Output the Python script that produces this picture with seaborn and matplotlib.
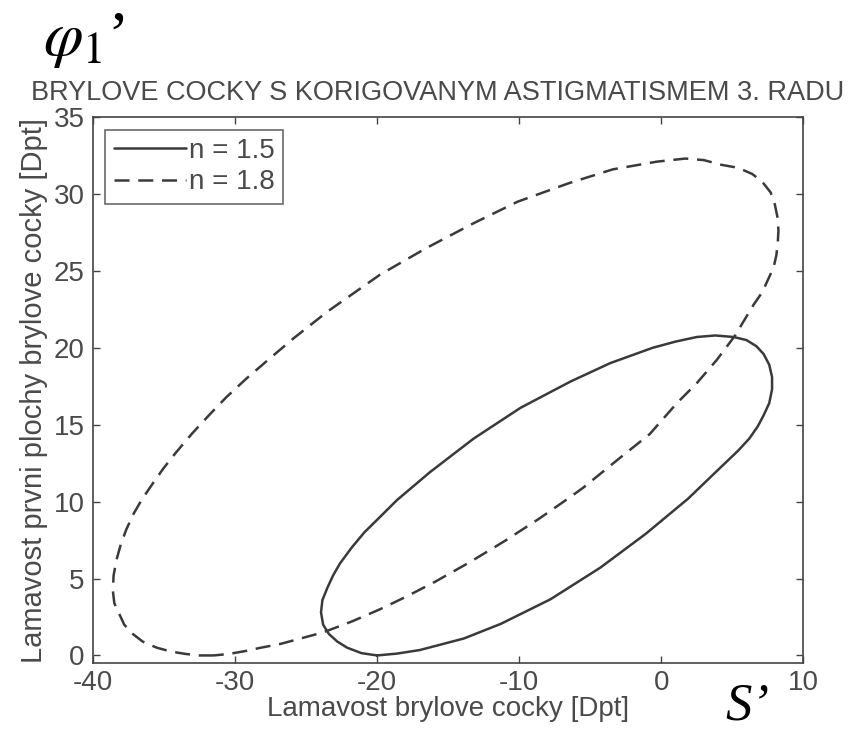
import matplotlib
matplotlib.use("Agg")
import matplotlib.pyplot as plt
import pandas as pd
import seaborn as sns

# ===================== DATA =====================
# n = 1.5, solid ellipse, traced from the bottom point round and back
solid_x = [-20.0, -21.1, -22.1, -22.8, -23.4, -23.8, -23.95, -23.85, -23.5, -23.1,
           -22.6, -21.8, -20.9, -19.8, -18.6, -16.3, -13.2, -9.9, -6.4, -3.6,
           -0.6, 1.0, 2.5, 3.8, 5.1, 6.0, 6.7, 7.2, 7.6, 7.8,
           7.8, 7.6, 7.2, 6.8, 6.2, 5.4, 3.7, 1.9, -1.1, -4.3,
           -7.8, -11.3, -13.9, -17.0, -18.6, -20.0]
solid_y = [0.0, 0.15, 0.5, 0.9, 1.4, 2.0, 2.8, 3.6, 4.4, 5.2,
           6.0, 7.0, 8.0, 9.0, 10.1, 11.9, 14.1, 16.1, 17.8, 19.0,
           20.0, 20.4, 20.7, 20.8, 20.7, 20.5, 20.1, 19.6, 18.9, 18.1,
           17.3, 16.4, 15.6, 14.9, 14.1, 13.3, 11.8, 10.2, 7.9, 5.7,
           3.65, 2.05, 1.1, 0.35, 0.12, 0.0]

# n = 1.8, dashed ellipse
dashed_x = [-31.5, -32.5, -33.5, -34.5, -35.5, -36.5, -37.2, -37.8, -38.2, -38.5,
            -38.6, -38.55, -38.35, -38.05, -37.65, -37.15, -36.55, -35.85, -35.05, -34.15,
            -33.0, -31.8, -30.6, -29.2, -27.5, -25.9, -23.5, -19.8, -16.5, -13.2,
            -10.1, -6.5, -3.4, -0.3, 1.7, 3.0, 4.2, 5.4, 6.4, 7.1,
            7.7, 8.0, 8.2, 8.25, 8.2, 8.1, 7.9, 7.5, 7.1, 6.5,
            5.2, 3.9, 2.5, 1.1, -0.8, -3.1, -5.5, -6.4, -8.5, -11.0,
            -13.5, -16.0, -18.0, -19.8, -21.8, -23.8, -26.8, -28.2, -29.2, -30.4,
            -31.5]
dashed_y = [0.0, 0.0, 0.1, 0.25, 0.5, 0.9, 1.4, 2.0, 2.8, 3.4,
            4.2, 5.2, 6.2, 7.2, 8.2, 9.2, 10.15, 11.1, 12.15, 13.2,
            14.45, 15.65, 16.8, 18.0, 19.35, 20.6, 22.35, 24.75, 26.5, 28.1,
            29.5, 30.7, 31.6, 32.1, 32.3, 32.2, 31.9, 31.7, 31.3, 30.8,
            30.1, 29.3, 28.4, 27.6, 26.8, 26.0, 25.2, 24.4, 23.6, 22.8,
            20.8, 19.2, 17.7, 16.4, 14.4, 12.7, 10.9, 10.3, 8.95, 7.45,
            6.05, 4.75, 3.8, 3.0, 2.2, 1.5, 0.75, 0.5, 0.3, 0.1,
            0.0]

x_ticks = [-40, -30, -20, -10, 0, 10]
y_ticks = [0, 5, 10, 15, 20, 25, 30, 35]

title = "BRYLOVE COCKY S KORIGOVANYM ASTIGMATISMEM 3. RADU"
x_label = "Lamavost brylove cocky [Dpt]"
y_label = "Lamavost prvni plochy brylove cocky [Dpt]"

# ===================== STYLE =====================
sns.set_style("ticks")
plt.rcParams["font.family"] = ["Liberation Sans", "DejaVu Sans"]
plt.rcParams["mathtext.fontset"] = "stix"
plt.rcParams["axes.unicode_minus"] = False

line_color = "#3a3a3a"
text_color = "#4a4a4a"
fs = 20

solid_df = pd.DataFrame({"x": solid_x, "y": solid_y})
dashed_df = pd.DataFrame({"x": dashed_x, "y": dashed_y})

# ===================== PLOT =====================
fig = plt.figure(figsize=(8.61, 7.36), dpi=100)
ax = fig.add_axes([0.108, 0.099, 0.825, 0.742])

sns.lineplot(data=solid_df, x="x", y="y", sort=False, estimator=None,
             color=line_color, linewidth=1.8, label="n = 1.5", ax=ax)
sns.lineplot(data=dashed_df, x="x", y="y", sort=False, estimator=None,
             color=line_color, linewidth=1.8, label="n = 1.8", ax=ax)
ax.lines[1].set_dashes((6, 3.5))

ax.set_xlim(-40, 10)
ax.set_ylim(-0.5, 35)
ax.set_xticks(x_ticks)
ax.set_yticks(y_ticks)
ax.tick_params(direction="in", top=True, right=True, length=5, width=1,
               color="#444444", labelsize=fs, labelcolor=text_color)
ax.tick_params(axis="x", pad=5)
ax.tick_params(axis="y", pad=6)
for sp in ax.spines.values():
    sp.set_visible(True)
    sp.set_color("#444444")
    sp.set_linewidth(1.2)

ax.set_xlabel(x_label, fontsize=20, color=text_color, labelpad=0)
ax.set_ylabel(y_label, fontsize=21, color=text_color, labelpad=4)

leg = ax.legend(loc="upper left", fontsize=fs, frameon=True, fancybox=False,
                handlelength=2.6, handletextpad=0.1, labelspacing=0.2,
                borderpad=0.3, borderaxespad=0.45)
leg.get_frame().set_edgecolor("#444444")
leg.get_frame().set_linewidth(1.2)
for t in leg.get_texts():
    t.set_color(text_color)

fig.text(0.508, 0.874, title, ha="center", va="center", fontsize=19.5, color=text_color)

# extra hand-added symbols on the scan
fig.text(0.05, 0.925, r"$\varphi_{1}$’", fontsize=46, color="black",
         family="Liberation Serif")
fig.text(0.842, 0.008, "S’", fontsize=38, color="black", va="bottom",
         family="Liberation Serif", style="italic")

fig.savefig("out.png", dpi=100)
